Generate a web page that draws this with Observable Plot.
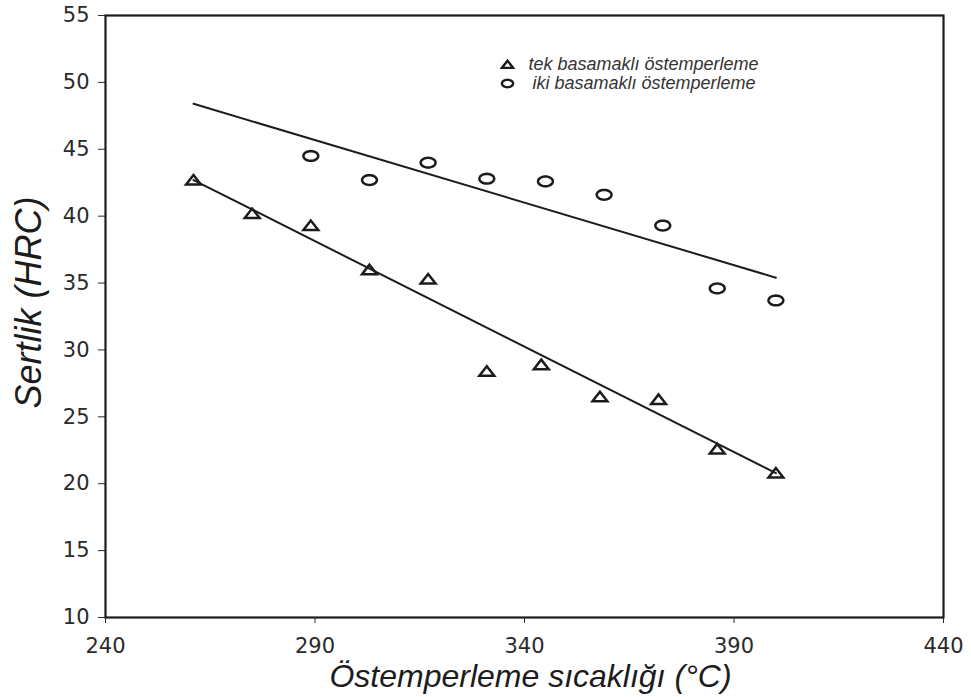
<!DOCTYPE html>
<html>
<head>
<meta charset="utf-8">
<script src="https://cdn.jsdelivr.net/npm/d3@7"></script>
<script src="https://cdn.jsdelivr.net/npm/@observablehq/plot@0.6"></script>
<style>
  html, body { margin: 0; padding: 0; background: #fff; }
  #chart svg { display: block; }
</style>
</head>
<body>
<div id="chart"></div>
<script>
// Axis ticks
const xTicks = [240, 290, 340, 390, 440];
const yTicks = [10, 15, 20, 25, 30, 35, 40, 45, 50, 55];

// Single-step austempering (triangles)
const tekX = [261, 275, 289, 303, 317, 331, 344, 358, 372, 386, 400];
const tekY = [42.7, 40.2, 39.3, 36.0, 35.3, 28.4, 28.9, 26.5, 26.3, 22.6, 20.8];

// Two-step austempering (circles)
const ikiX = [289, 303, 317, 331, 345, 359, 373, 386, 400];
const ikiY = [44.5, 42.7, 44.0, 42.8, 42.6, 41.6, 39.3, 34.6, 33.7];

// Trend lines (end points)
const fitX = [261, 400];
const tekFit = [42.7, 20.8];
const ikiFit = [48.4, 35.4];

// Text
const legendLabels = ["tek basamaklı östemperleme", "iki basamaklı östemperleme"];
const xTitle = "Östemperleme sıcaklığı (°C)";
const yTitle = "Sertlik (HRC)";

const toRows = (xs, ys) => xs.map((x, i) => ({x, y: ys[i]}));

// Slightly flattened open markers
const wideTriangle = {
  draw(context, size) {
    const r = Math.sqrt(size / Math.PI);
    context.moveTo(0, -0.95 * r);
    context.lineTo(1.4 * r, 0.85 * r);
    context.lineTo(-1.4 * r, 0.85 * r);
    context.closePath();
  }
};
const ellipse = {
  draw(context, size) {
    const r = Math.sqrt(size / Math.PI);
    const n = 32;
    for (let i = 0; i <= n; ++i) {
      const a = (i / n) * 2 * Math.PI;
      const px = 1.4 * r * Math.cos(a), py = 0.92 * r * Math.sin(a);
      if (i === 0) context.moveTo(px, py); else context.lineTo(px, py);
    }
    context.closePath();
  }
};

const titleFont = "'Liberation Sans', Arial, sans-serif";
const ink = "#1c1c1c";

const chart = Plot.plot({
  width: 971,
  height: 697,
  marginLeft: 105,
  marginRight: 28,
  marginTop: 15,
  marginBottom: 80,
  style: {fontFamily: "'DejaVu Sans', sans-serif", fontSize: "21px", color: "#2a2a2a", background: "#fff"},
  x: {domain: [240, 440], ticks: xTicks, tickSize: 6, tickPadding: 15, label: null},
  y: {domain: [10, 55], ticks: yTicks, tickSize: 7, tickPadding: 9, label: null},
  marks: [
    Plot.frame({stroke: ink, strokeWidth: 2.2}),
    Plot.line(toRows(fitX, ikiFit), {x: "x", y: "y", stroke: ink, strokeWidth: 2}),
    Plot.line(toRows(fitX, tekFit), {x: "x", y: "y", stroke: ink, strokeWidth: 2}),
    Plot.dot(toRows(tekX, tekY), {x: "x", y: "y", r: 5.3, symbol: wideTriangle, stroke: ink, strokeWidth: 2.5, fill: "none"}),
    Plot.dot(toRows(ikiX, ikiY), {x: "x", y: "y", r: 5.3, symbol: ellipse, stroke: ink, strokeWidth: 2.5, fill: "none"}),
    // Legend
    Plot.dot([legendLabels[0]], {frameAnchor: "top-left", dx: 402, dy: 49, r: 4, symbol: wideTriangle, stroke: ink, strokeWidth: 2.4, fill: "none"}),
    Plot.dot([legendLabels[1]], {frameAnchor: "top-left", dx: 402, dy: 68, r: 4, symbol: ellipse, stroke: ink, strokeWidth: 2.4, fill: "none"}),
    Plot.text([legendLabels[0]], {text: d => d, frameAnchor: "top-left", dx: 423, dy: 49, textAnchor: "start", lineAnchor: "middle", fontSize: 18, fontStyle: "italic", fontFamily: titleFont, fill: "#333"}),
    Plot.text([legendLabels[1]], {text: d => d, frameAnchor: "top-left", dx: 427, dy: 68, textAnchor: "start", lineAnchor: "middle", fontSize: 18, fontStyle: "italic", fontFamily: titleFont, fill: "#333"}),
    // Axis titles
    Plot.text([xTitle], {text: d => d, frameAnchor: "bottom", dx: 6, dy: 59, textAnchor: "middle", lineAnchor: "middle", fontSize: 32, fontStyle: "italic", fontFamily: titleFont, fill: ink}),
    Plot.text([yTitle], {text: d => d, frameAnchor: "left", dx: -76, dy: -14, rotate: -90, textAnchor: "middle", lineAnchor: "middle", fontSize: 36, fontStyle: "italic", fontFamily: titleFont, fill: ink})
  ]
});

document.getElementById("chart").appendChild(chart);
</script>
</body>
</html>
